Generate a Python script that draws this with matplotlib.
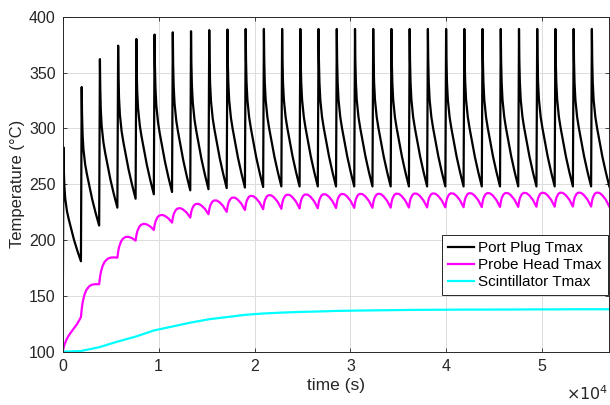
import matplotlib
matplotlib.use("Agg")
import matplotlib.pyplot as plt
import numpy as np

plt.rcParams['font.family'] = ['Liberation Sans', 'DejaVu Sans']

# heating cycle timing (s)
cycle_period = 1900
pulse_rise = 80
n_cycles = 30

# Port plug: value before the first pulse, then peak / trough of every cycle
plug_start = 121
plug_peaks = [283, 337, 362, 374, 380, 384, 386, 387, 388, 388.5] + [389] * 20
plug_troughs = [181, 213, 229, 237, 241, 243, 244.5, 245.5, 246.5, 247] + [247.5] + [248] * 19
# decay shape after each peak (fraction of cycle -> fraction of peak-trough swing)
plug_decay_s = [0, 0.02, 0.05, 0.1, 0.2, 0.3, 0.45, 0.6, 0.8, 1.0]
plug_decay_f = [1, 0.80, 0.66, 0.55, 0.44, 0.37, 0.28, 0.19, 0.09, 0]

# Probe head: value at each pulse, plus the size of the in-cycle hump
head_at_pulse = [100, 131, 160.4, 184.2, 199.5, 209.0, 215.6, 220.1, 223.1, 225.2,
                 226.9, 227.6, 228.0, 228.3, 228.5, 228.7, 228.8, 228.9, 229.0, 229.1,
                 229.2, 229.3, 229.4, 229.5, 229.6, 229.7, 229.8, 229.9, 230.0, 230.0, 230.0]
head_hump = [-10, 2, 2, 5.4, 7, 8, 9.3, 10, 10.8, 11.6,
             12.2, 12.4, 12.5, 12.5, 12.5, 12.6, 12.6, 12.6, 12.6, 12.6] + [12.6] * 10
# in-cycle shapes: step towards the next pulse value, and the hump on top of it
head_s = [0, 0.05, 0.1, 0.2, 0.3, 0.45, 0.6, 0.8, 1.0]
head_step = [0, 0.25, 0.42, 0.63, 0.76, 0.87, 0.93, 0.97, 1.0]
head_bump = [0, 0.4, 0.65, 0.9, 0.99, 0.97, 0.82, 0.5, 0]

# Scintillator: value at every pulse time
scint = [100, 100.6, 104, 109, 113.5, 119, 122.5, 126, 129, 131,
         133, 134.2, 135, 135.6, 136, 136.5, 136.8, 137, 137.2, 137.4,
         137.5, 137.6, 137.7, 137.7, 137.8, 137.8, 137.9, 137.9, 138, 138, 138]

# build the port plug trace cycle by cycle
t_plug, y_plug = [], []
prev = plug_start
for k in range(n_cycles):
    t0 = k * cycle_period
    t_plug.append(t0)
    y_plug.append(prev)
    span = cycle_period - pulse_rise
    for s, f in zip(plug_decay_s, plug_decay_f):
        t_plug.append(t0 + pulse_rise + s * span)
        y_plug.append(plug_troughs[k] + f * (plug_peaks[k] - plug_troughs[k]))
    prev = plug_troughs[k]

# probe head trace
t_head, y_head = [], []
for k in range(n_cycles):
    t0 = k * cycle_period
    c0, c1 = head_at_pulse[k], head_at_pulse[k + 1]
    for s, r, h in zip(head_s, head_step, head_bump):
        t_head.append(t0 + s * cycle_period)
        y_head.append(c0 + r * (c1 - c0) + h * head_hump[k])

t_scint = [k * cycle_period for k in range(len(scint))]

fig = plt.figure(figsize=(6.1, 4.05), dpi=100)
ax = fig.add_axes([0.1028, 0.1316, 0.8961, 0.8272])

ax.plot(t_plug, y_plug, color='k', lw=1.6, label='Port Plug Tmax')
ax.plot(t_head, y_head, color='#ff00ff', lw=1.6, label='Probe Head Tmax')
ax.plot(t_scint, scint, color='#00ffff', lw=1.6, label='Scintillator Tmax')

ax.set_xlim(0, 57000)
ax.set_ylim(100, 400)
ax.set_xticks([0, 10000, 20000, 30000, 40000, 50000])
ax.set_xticklabels(['0', '1', '2', '3', '4', '5'])
ax.set_yticks(np.arange(100, 401, 50))

ax.grid(True, color='#dcdcdc', lw=0.7)
ax.set_axisbelow(True)
for sp in ax.spines.values():
    sp.set_color('#262626')
    sp.set_linewidth(0.7)
ax.tick_params(direction='in', length=3, width=0.6, color='#262626',
               labelsize=11.5, labelcolor='#262626', top=True, right=True, pad=5)

ax.set_xlabel('time (s)', fontsize=12.5, color='#262626', labelpad=3)
ax.set_ylabel('Temperature (°C)', fontsize=12, color='#262626', labelpad=3)
fig.text(0.997, 0.004, r'$\times10^{4}$', ha='right', va='bottom',
         fontsize=11.5, color='#262626')

leg = ax.legend(loc='lower right', bbox_to_anchor=(0.997, 0.169), borderaxespad=0,
                fontsize=11, handlelength=1.7, handletextpad=0.25,
                labelspacing=0.2, borderpad=0.4, fancybox=False, framealpha=1)
leg.get_frame().set_edgecolor('#262626')
leg.get_frame().set_linewidth(0.7)

fig.savefig('out.png', dpi=100)
